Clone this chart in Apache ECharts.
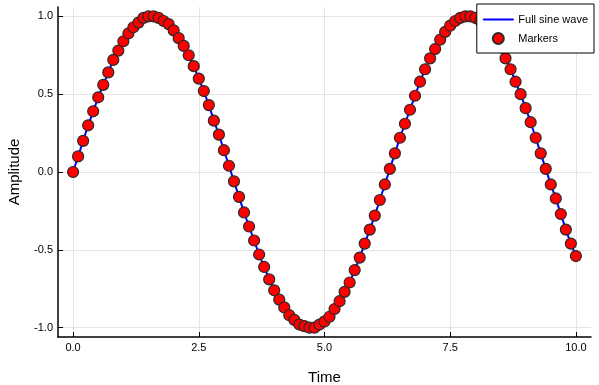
<!DOCTYPE html>
<html><head><meta charset="utf-8">
<script src="https://cdn.jsdelivr.net/npm/echarts@6/dist/echarts.min.js"></script>
<style>html,body{margin:0;padding:0;background:#fff}#c{width:599px;height:385px}</style>
</head><body><div id="c"></div>
<script>
const times = [0.0,0.1,0.2,0.3,0.4,0.5,0.6,0.7,0.8,0.9,1.0,1.1,1.2,1.3,1.4,1.5,1.6,1.7,1.8,1.9,
2.0,2.1,2.2,2.3,2.4,2.5,2.6,2.7,2.8,2.9,3.0,3.1,3.2,3.3,3.4,3.5,3.6,3.7,3.8,3.9,
4.0,4.1,4.2,4.3,4.4,4.5,4.6,4.7,4.8,4.9,5.0,5.1,5.2,5.3,5.4,5.5,5.6,5.7,5.8,5.9,
6.0,6.1,6.2,6.3,6.4,6.5,6.6,6.7,6.8,6.9,7.0,7.1,7.2,7.3,7.4,7.5,7.6,7.7,7.8,7.9,
8.0,8.1,8.2,8.3,8.4,8.5,8.6,8.7,8.8,8.9,9.0,9.1,9.2,9.3,9.4,9.5,9.6,9.7,9.8,9.9,10.0];
const amplitude = [0.00,0.10,0.20,0.30,0.39,0.48,0.56,0.64,0.72,0.78,0.84,0.89,0.93,0.96,0.99,1.00,1.00,0.99,0.97,0.95,
0.91,0.86,0.81,0.75,0.68,0.60,0.52,0.43,0.33,0.24,0.14,0.04,-0.06,-0.16,-0.26,-0.35,-0.44,-0.53,-0.61,-0.69,
-0.76,-0.82,-0.87,-0.92,-0.95,-0.98,-0.99,-1.00,-1.00,-0.98,-0.96,-0.93,-0.88,-0.83,-0.77,-0.71,-0.63,-0.55,-0.46,-0.37,
-0.28,-0.18,-0.08,0.02,0.12,0.22,0.31,0.40,0.49,0.58,0.66,0.73,0.79,0.85,0.90,0.94,0.97,0.99,1.00,1.00,
0.99,0.97,0.94,0.90,0.85,0.80,0.73,0.66,0.58,0.50,0.41,0.32,0.22,0.12,0.02,-0.08,-0.17,-0.27,-0.37,-0.46,-0.54];
const xTicks = [0, 2.5, 5, 7.5, 10];
const yTicks = [-1, -0.5, 0, 0.5, 1];

const pts = times.map((t, i) => [t, amplitude[i]]);
const font = 'Liberation Sans, Arial, sans-serif';
const chart = echarts.init(document.getElementById('c'), null, {renderer: 'canvas'});
chart.setOption({
  animation: false,
  backgroundColor: '#fff',
  textStyle: {fontFamily: font},
  grid: {left: 58, right: 8, top: 7, bottom: 48, containLabel: false, outerBoundsMode: 'none'},
  legend: {
    orient: 'vertical', right: 5, top: 4,
    padding: [10, 6, 8, 6],
    itemWidth: 30, itemHeight: 11, itemGap: 7,
    borderColor: '#000', borderWidth: 1, backgroundColor: '#fff',
    textStyle: {fontSize: 11, color: '#000', fontFamily: font},
    data: [{name: 'Full sine wave', icon: 'path://M0,5 L30,5 L30,6 L0,6 Z', itemStyle: {color: '#0000ff', borderColor: '#0000ff', borderWidth: 1}},
           {name: 'Markers', icon: 'circle'}]
  },
  xAxis: {
    type: 'value', min: -0.3, max: 10.3,
    name: 'Time', nameLocation: 'middle', nameGap: 33,
    nameTextStyle: {fontSize: 15, color: '#000', fontFamily: font},
    axisLine: {show: true, onZero: false, lineStyle: {color: '#000', width: 1.5}},
    axisTick: {show: true, inside: true, length: 5, customValues: xTicks, lineStyle: {color: '#000'}},
    axisLabel: {customValues: xTicks, margin: 5, fontSize: 11, color: '#000', formatter: v => v.toFixed(1)},
    splitLine: {show: true, lineStyle: {color: '#e5e5e5', width: 1}}
  },
  yAxis: {
    type: 'value', min: -1.06, max: 1.06,
    name: 'Amplitude', nameLocation: 'middle', nameGap: 36, nameRotate: 90,
    nameTextStyle: {fontSize: 15, color: '#000', fontFamily: font},
    axisLine: {show: true, onZero: false, lineStyle: {color: '#000', width: 1.5}},
    axisTick: {show: true, inside: true, length: 5, customValues: yTicks, lineStyle: {color: '#000'}},
    axisLabel: {customValues: yTicks, margin: 5, fontSize: 11, color: '#000', formatter: v => v.toFixed(1)},
    splitLine: {show: true, lineStyle: {color: '#e5e5e5', width: 1}}
  },
  series: [
    {name: 'Full sine wave', type: 'line', data: pts, showSymbol: false, smooth: false,
     lineStyle: {color: '#0000ff', width: 2}, itemStyle: {color: '#0000ff'}, z: 2},
    {name: 'Markers', type: 'scatter', data: pts, symbol: 'circle', symbolSize: 11,
     itemStyle: {color: '#ff0000', borderColor: '#2a2a2a', borderWidth: 1.2, opacity: 1}, z: 3}
  ]
});
</script></body></html>
